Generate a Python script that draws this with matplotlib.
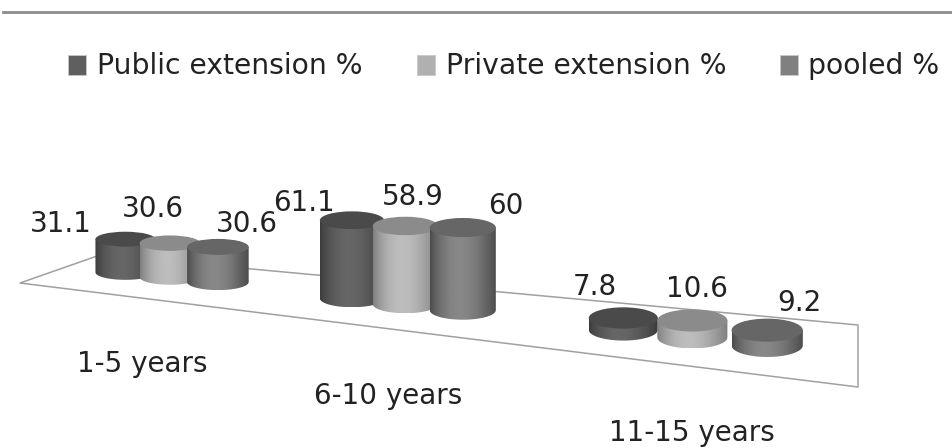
import numpy as np
import matplotlib
matplotlib.use('Agg')
import matplotlib.pyplot as plt
from matplotlib.patches import Ellipse, PathPatch, Rectangle
from matplotlib.path import Path

categories = ['1-5 years', '6-10 years', '11-15 years']
series_names = ['Public extension %', 'Private extension %', 'pooled %']
public_ext = [31.1, 61.1, 7.8]
private_ext = [30.6, 58.9, 10.6]
pooled = [30.6, 60, 9.2]
values = [public_ext, private_ext, pooled]

# side brightness (edge, highlight) and top colour for each series
side_edge = [0.24, 0.50, 0.30]
side_high = [0.40, 0.74, 0.53]
top_color = ['#4a4a4a', '#8b8b8b', '#666666']
legend_color = ['#5f5f5f', '#b0b0b0', '#808080']

W, H = 953, 448
fig = plt.figure(figsize=(W / 100, H / 100), dpi=100)
ax = fig.add_axes([0, 0, 1, 1])
ax.set_xlim(0, W)
ax.set_ylim(H, 0)
ax.axis('off')
plt.rcParams['font.family'] = 'DejaVu Sans'

# floor of the chart in screen space: front-left, front-right, back-left, back-right
floor = np.array([[20, 283], [858, 387], [100, 255], [858, 325]], float)


def floor_homography(q):
    src = [(0, 0), (1, 0), (0, 1), (1, 1)]
    A, b = [], []
    for (u, v), (x, y) in zip(src, q):
        A.append([u, v, 1, 0, 0, 0, -u * x, -v * x])
        A.append([0, 0, 0, u, v, 1, -u * y, -v * y])
        b += [x, y]
    h = np.linalg.solve(np.array(A), np.array(b))
    return np.append(h, 1).reshape(3, 3)


HG = floor_homography(floor)


def project(u, v):
    p = HG @ np.array([u, v, 1.0])
    return p[0] / p[2], p[1] / p[2], 1 / p[2]


def cylinder(cx, base, rx, ry, height, k):
    top = base - height
    t = np.linspace(np.pi, 0, 40)
    arc = np.c_[cx + rx * np.cos(t), base + ry * np.sin(t)]
    verts = np.vstack([[cx - rx, top], arc, [cx + rx, top], [cx - rx, top]])
    codes = [Path.MOVETO] + [Path.LINETO] * (len(verts) - 2) + [Path.CLOSEPOLY]
    s = np.linspace(0, 1, 64)
    shade = side_edge[k] + (side_high[k] - side_edge[k]) * np.sin(np.pi * s ** 0.85)
    im = ax.imshow(shade[None, :], cmap='gray', vmin=0, vmax=1, aspect='auto',
                   extent=(cx - rx, cx + rx, base + ry, top), zorder=3 + k * 0.1)
    im.set_clip_path(PathPatch(Path(verts, codes), transform=ax.transData))
    ax.add_patch(Ellipse((cx, top), 2 * rx, 2 * ry, fc=top_color[k], ec='none',
                         zorder=3 + k * 0.1))


# axis frame on the floor
edge = {'color': '#a0a0a0', 'lw': 1.1, 'zorder': 1}
ax.plot(floor[[2, 0, 1, 3, 2], 0], floor[[2, 0, 1, 3, 2], 1], **edge)

# each group is spread along the floor
group_u = [0.200, 0.56, 0.866]
group_du = [0.083, 0.07, 0.0635]
group_v = [0.57, 0.52, 0.47]
label_dx = [[-65, -17, 29], [-48, 7, 43], [-28, 5, 32]]
label_dy = [[-15, -34, -23], [-17, -29, -22], [-31, -31, -27]]
cat_label_xy = [(142, 364), (388, 396), (692, 433)]

for i, cat in enumerate(categories):
    for k in range(3):
        cx, base, scale = project(group_u[i] + (k - 1) * group_du[i], group_v[i])
        rx = 30 * scale ** 0.4
        ry = 7.5 * scale
        val = values[k][i]
        h = val * 1.08 * scale
        cylinder(cx, base, rx, ry, h, k)
        ax.text(cx + label_dx[i][k], base - h + label_dy[i][k], str(val), fontsize=20,
                color='#222222', ha='center', va='center', zorder=6)
    ax.text(cat_label_xy[i][0], cat_label_xy[i][1], cat, fontsize=20, color='#222222',
            ha='center', va='center', zorder=6)

ax.set_xlim(0, W)
ax.set_ylim(H, 0)

# rule along the top
ax.plot([3, W], [12, 12], color='#8c8c8c', lw=2)

# legend
swatch_x = [68, 417, 780]
text_x = [97, 446, 808]
for k, name in enumerate(series_names):
    ax.add_patch(Rectangle((swatch_x[k], 55), 18, 20, fc=legend_color[k], ec='#c8c8c8', lw=0.6))
    ax.text(text_x[k], 66, name, fontsize=20.3, color='#222222', va='center', ha='left')

fig.savefig('out.png', dpi=100)
